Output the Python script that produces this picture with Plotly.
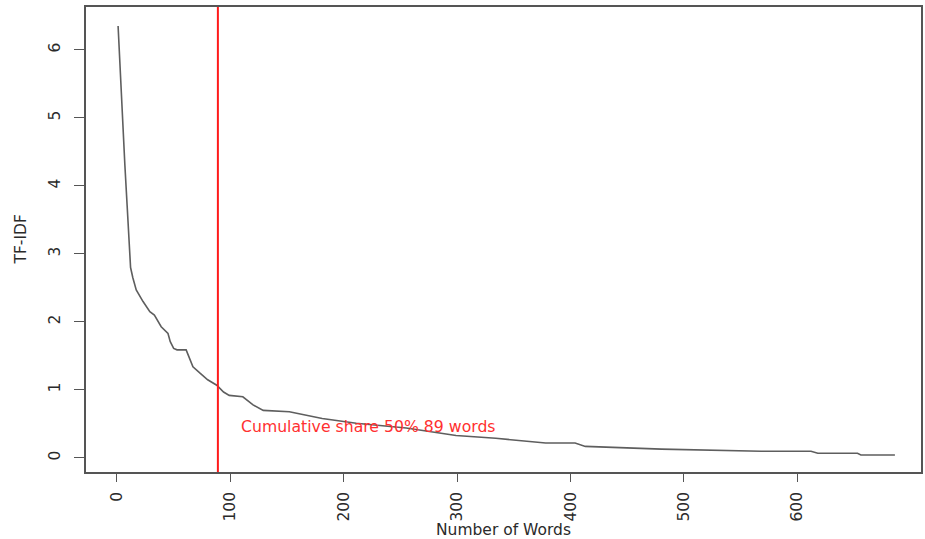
import plotly.graph_objects as go

# ---- data ----
word_rank = [1, 3, 5, 7, 9, 11, 12, 14, 17, 23, 29, 33, 39, 45, 47, 50, 53, 61, 63, 67,
             73, 80, 88, 94, 99, 111, 120, 129, 152, 181, 211, 255, 299, 320, 334, 378,
             404, 413, 480, 568, 612, 618, 653, 656, 686]
tfidf = [6.35, 5.6, 4.95, 4.3, 3.7, 3.0, 2.8, 2.65, 2.47, 2.30, 2.15, 2.10, 1.93, 1.83,
         1.71, 1.61, 1.59, 1.59, 1.51, 1.34, 1.25, 1.15, 1.07, 0.97, 0.92, 0.90, 0.78,
         0.70, 0.68, 0.58, 0.51, 0.44, 0.33, 0.31, 0.29, 0.22, 0.22, 0.17, 0.13, 0.10,
         0.10, 0.07, 0.07, 0.045, 0.045]
cutoff_words = 89
label_text = "Cumulative share 50% 89 words"
label_x = 108
label_y = 0.47
x_ticks = [0, 100, 200, 300, 400, 500, 600]
y_ticks = [0, 1, 2, 3, 4, 5, 6]

FONT = "DejaVu Sans"
AXIS_COL = "#555555"
TXT_COL = "#2a2a2a"

fig = go.Figure()
fig.add_trace(go.Scatter(x=word_rank, y=tfidf, mode="lines",
                         line=dict(color="#5e5e5e", width=1.6), hoverinfo="skip",
                         showlegend=False))

fig.add_shape(type="line", xref="x", yref="paper", x0=cutoff_words, x1=cutoff_words,
              y0=0, y1=1, line=dict(color="#ff1a1a", width=2))

fig.add_annotation(x=label_x, y=label_y, xref="x", yref="y", text=label_text,
                   showarrow=False, xanchor="left", yanchor="middle",
                   font=dict(family=FONT, size=15.7, color="#ff3030"))

# axis titles
fig.add_annotation(x=0.5, y=-0.125, xref="paper", yref="paper", text="Number of Words",
                   showarrow=False, xanchor="center", yanchor="middle",
                   font=dict(family=FONT, size=15.5, color=TXT_COL))
fig.add_annotation(x=-0.079, y=0.5, xref="paper", yref="paper", text="TF-IDF",
                   showarrow=False, xanchor="center", yanchor="middle", textangle=-90,
                   font=dict(family=FONT, size=15.5, color=TXT_COL))

fig.update_layout(
    width=925, height=539,
    margin=dict(l=86, r=2, t=7, b=67),
    paper_bgcolor="white", plot_bgcolor="white",
    font=dict(family=FONT, size=15, color=TXT_COL),
)
fig.update_xaxes(range=[-27.3, 709], tickvals=x_ticks, ticktext=[str(v) for v in x_ticks],
                 tickangle=-90, ticks="outside", ticklen=8, tickcolor=AXIS_COL,
                 tickwidth=1.2, showgrid=False, zeroline=False, showline=True,
                 linecolor=AXIS_COL, linewidth=1.5, mirror=True,
                 tickfont=dict(family=FONT, size=15.5, color=TXT_COL), ticklabelstandoff=4)
fig.update_yaxes(range=[-0.206, 6.63], tickvals=y_ticks, ticktext=[str(v) for v in y_ticks],
                 tickangle=-90, ticks="outside", ticklen=10, tickcolor=AXIS_COL,
                 tickwidth=1.2, showgrid=False, zeroline=False, showline=True,
                 linecolor=AXIS_COL, linewidth=1.5, mirror=True,
                 tickfont=dict(family=FONT, size=15.5, color=TXT_COL), ticklabelstandoff=8)

fig.write_html("out.html",
               config={"displayModeBar": False},
               post_script="document.body.style.margin='0';"
                           "document.body.style.overflow='hidden';")
